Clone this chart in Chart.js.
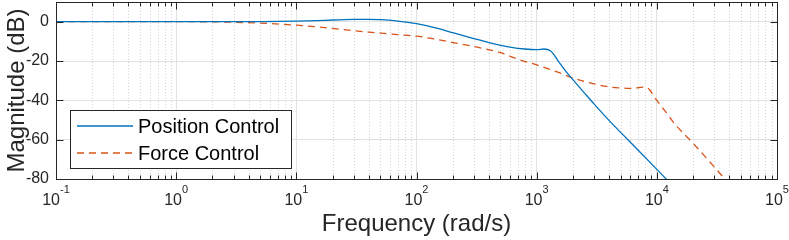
<!DOCTYPE html>
<html>
<head>
<meta charset="utf-8">
<script src="https://cdn.jsdelivr.net/npm/chart.js@4.4.1/dist/chart.umd.min.js"></script>
<style>
  html, body { margin: 0; padding: 0; background: #fff; }
  #wrap { width: 789px; height: 240px; }
</style>
</head>
<body>
<div id="wrap"><canvas id="bode" width="789" height="240"></canvas></div>
<script>
// magnitude curves: frequency in rad/s, magnitude in dB
const posFreq = [0.1, 1, 3, 5, 10, 15, 20, 30, 40, 50, 70, 100, 150, 200, 300, 400, 600, 800,
  1000, 1150, 1300, 1400, 1550, 1750, 2000, 2500, 3000, 4000, 5000, 7000, 10000, 12000, 15000];
const posMag = [0, 0, 0, 0.05, 0.25, 0.55, 0.85, 1.15, 1.2, 1.0, 0.3, -1.0, -3.4, -5.6, -8.6, -10.6, -12.9, -13.9,
  -14.2, -13.9, -14.8, -17.0, -21.0, -25.3, -29.5, -36.3, -41.8, -50.2, -56.3, -65.4, -75.1, -80.1, -86.1];

const forceFreq = [0.1, 1, 2, 3, 5, 10, 15, 20, 30, 40, 50, 70, 100, 150, 200, 300, 500, 700,
  1000, 1500, 2000, 3000, 4000, 5000, 6000, 7000, 7700, 8300, 8800, 9300, 10000, 12000, 14000,
  20000, 30000, 37000, 50000];
const forceMag = [0, 0, -0.1, -0.3, -0.7, -1.8, -2.7, -3.4, -4.6, -5.3, -5.8, -6.6, -7.4, -9.1, -10.6, -12.6, -15.8, -19.1,
  -22.0, -25.7, -28.6, -31.6, -33.2, -33.7, -33.9, -33.6, -33.3, -33.6, -35.0, -37.3, -40.0, -46.3, -51.8,
  -61.8, -73.8, -80.2, -89];

const seriesNames = ['Position Control', 'Force Control'];
const xDecades = [0.1, 1, 10, 100, 1000, 10000, 100000];
const xExponents = ['-1', '0', '1', '2', '3', '4', '5'];
const yTicks = [-80, -60, -40, -20, 0];

const ink = '#262626';
const fontFamily = '"Liberation Sans", Arial, sans-serif';

// minor log positions 2..9 in every decade
const minorX = [];
xDecades.slice(0, -1).forEach(d => {
  for (let k = 2; k <= 9; k++) minorX.push(d * k);
});

const matlabAxes = {
  id: 'matlabAxes',
  beforeDatasetsDraw(chart) {
    const { ctx, chartArea: a, scales: { x } } = chart;
    ctx.save();
    ctx.strokeStyle = '#d6d6d6';
    ctx.lineWidth = 1;
    ctx.setLineDash([1, 2]);
    minorX.forEach(v => {
      const px = Math.round(x.getPixelForValue(v)) + 0.5;
      ctx.beginPath();
      ctx.moveTo(px, a.top);
      ctx.lineTo(px, a.bottom);
      ctx.stroke();
    });
    ctx.restore();
  },
  afterDraw(chart) {
    const { ctx, chartArea: a, scales: { x, y } } = chart;
    const L = Math.round(a.left) + 0.5, R = Math.round(a.right) + 0.5;
    const T = Math.round(a.top) + 0.5, B = Math.round(a.bottom) + 0.5;
    ctx.save();
    ctx.strokeStyle = ink;
    ctx.lineWidth = 1;

    // inner tick marks
    ctx.beginPath();
    const xTick = (v, len) => {
      const px = Math.round(x.getPixelForValue(v)) + 0.5;
      ctx.moveTo(px, B); ctx.lineTo(px, B - len);
      ctx.moveTo(px, T); ctx.lineTo(px, T + len);
    };
    minorX.forEach(v => xTick(v, 4));
    xDecades.forEach(v => xTick(v, 7));
    yTicks.forEach(v => {
      const py = Math.round(y.getPixelForValue(v)) + 0.5;
      ctx.moveTo(L, py); ctx.lineTo(L + 7, py);
      ctx.moveTo(R, py); ctx.lineTo(R - 7, py);
    });
    ctx.stroke();

    // axes box
    ctx.strokeRect(L, T, R - L, B - T);

    // x tick labels as 10 with a raised exponent
    ctx.fillStyle = ink;
    ctx.textBaseline = 'alphabetic';
    ctx.textAlign = 'left';
    xDecades.forEach((v, i) => {
      const px = x.getPixelForValue(v);
      ctx.font = '16px ' + fontFamily;
      const wb = ctx.measureText('10').width;
      ctx.font = '11px ' + fontFamily;
      const we = ctx.measureText(xExponents[i]).width;
      const x0 = px - (wb + we) / 2;
      ctx.font = '16px ' + fontFamily;
      ctx.fillText('10', x0, 205);
      ctx.font = '11px ' + fontFamily;
      ctx.fillText(xExponents[i], x0 + wb, 193);
    });

    // legend box, lower left
    const bx = 70.5, by = 110.5, bw = 221, bh = 58;
    ctx.fillStyle = '#fff';
    ctx.fillRect(bx, by, bw, bh);
    ctx.strokeStyle = ink;
    ctx.strokeRect(bx, by, bw, bh);
    const rows = [126, 153];
    chart.data.datasets.forEach((ds, i) => {
      ctx.save();
      ctx.strokeStyle = ds.borderColor;
      ctx.lineWidth = ds.borderWidth;
      ctx.setLineDash(ds.borderDash || []);
      ctx.beginPath();
      ctx.moveTo(77, rows[i]);
      ctx.lineTo(133, rows[i]);
      ctx.stroke();
      ctx.restore();
      ctx.fillStyle = '#000';
      ctx.font = '20px ' + fontFamily;
      ctx.textBaseline = 'middle';
      ctx.fillText(ds.label, 138, rows[i] + 1);
    });
    ctx.restore();
  }
};

new Chart(document.getElementById('bode'), {
  type: 'line',
  data: {
    datasets: [
      {
        label: seriesNames[0],
        data: posFreq.map((f, i) => ({ x: f, y: posMag[i] })),
        borderColor: '#0072BD',
        borderWidth: 1.3,
        pointRadius: 0,
        cubicInterpolationMode: 'monotone',
        fill: false
      },
      {
        label: seriesNames[1],
        data: forceFreq.map((f, i) => ({ x: f, y: forceMag[i] })),
        borderColor: '#D95319',
        borderWidth: 1.3,
        borderDash: [7, 5],
        pointRadius: 0,
        cubicInterpolationMode: 'monotone',
        fill: false
      }
    ]
  },
  options: {
    responsive: false,
    animation: false,
    devicePixelRatio: 1,
    layout: { padding: { top: 2, right: 12, left: 0, bottom: 0 } },
    plugins: { legend: { display: false }, tooltip: { enabled: false } },
    scales: {
      x: {
        type: 'logarithmic',
        min: 0.1,
        max: 100000,
        afterBuildTicks: s => { s.ticks = xDecades.map(v => ({ value: v, major: true })); },
        afterFit: s => { s.height = 61; s.paddingLeft = 0; s.paddingRight = 0; },
        ticks: { display: false },
        grid: { color: '#e2e2e2', drawTicks: false },
        border: { display: false },
        title: {
          display: true,
          text: 'Frequency (rad/s)',
          color: ink,
          font: { family: fontFamily, size: 24 },
          padding: { top: 0, bottom: 1 }
        }
      },
      y: {
        min: -80,
        max: 10,
        afterBuildTicks: s => { s.ticks = yTicks.map(v => ({ value: v })); },
        afterFit: s => { s.width = 56; s.paddingTop = 0; s.paddingBottom = 0; },
        ticks: { color: ink, font: { family: fontFamily, size: 16 }, padding: 7 },
        grid: { color: '#e2e2e2', drawTicks: false },
        border: { display: false },
        title: {
          display: true,
          text: 'Magnitude (dB)',
          color: ink,
          font: { family: fontFamily, size: 24 },
          padding: { top: 3, bottom: 0 }
        }
      }
    }
  },
  plugins: [matlabAxes]
});
</script>
</body>
</html>
